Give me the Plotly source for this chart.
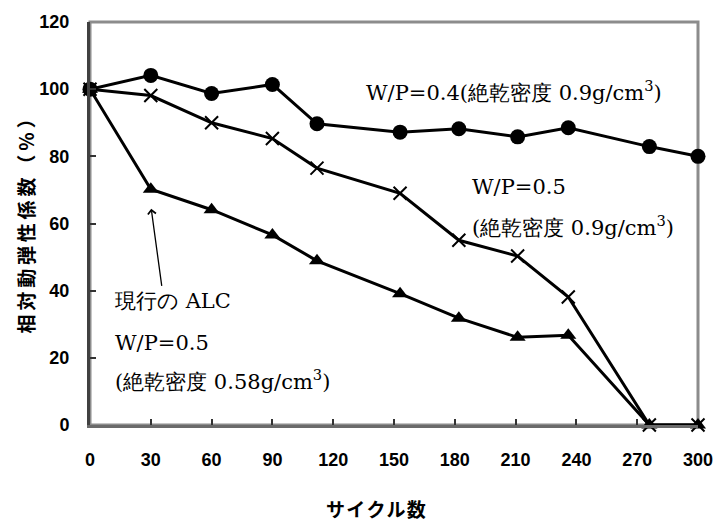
import plotly.graph_objects as go

cycles = [0, 30, 60, 90, 112, 153, 182, 211, 236, 276, 300]
wp04 = [100, 104.1, 98.7, 101.4, 89.7, 87.2, 88.2, 85.8, 88.5, 82.9, 80.0]
wp05 = [100, 98.1, 90.0, 85.3, 76.5, 69.0, 55.0, 50.3, 38.1, 0, 0]
alc = [100, 70.2, 64.1, 56.6, 48.9, 39.1, 31.8, 26.1, 26.7, 0, 0]

x_ticks = [0, 30, 60, 90, 120, 150, 180, 210, 240, 270, 300]
x_labels = ["0", "30", "60", "90", "120", "150", "180", "210", "240", "270", "300"]
y_ticks = [0, 20, 40, 60, 80, 100, 120]
y_labels = ["0", "20", "40", "60", "80", "100", "120"]

fig = go.Figure()
line = dict(color="black", width=3)
fig.add_trace(go.Scatter(x=cycles, y=alc, mode="lines+markers", line=line,
                         marker=dict(symbol="triangle-up", size=14, color="black"), cliponaxis=False))
fig.add_trace(go.Scatter(x=cycles, y=wp05, mode="lines+markers", line=line,
                         marker=dict(symbol="x-thin", size=13, color="black",
                                     line=dict(color="black", width=2)), cliponaxis=False))
fig.add_trace(go.Scatter(x=cycles, y=wp04, mode="lines+markers", line=line,
                         marker=dict(symbol="circle", size=15, color="black"), cliponaxis=False))

tickfont = dict(family="Liberation Sans, Arial", size=18, color="black", weight="bold")
fig.update_xaxes(range=[0, 300], tickvals=x_ticks, ticktext=x_labels, ticks="inside",
                 ticklen=6, tickwidth=2, tickcolor="#333", showline=True, linecolor="#6a6a6a",
                 linewidth=3, showgrid=False, zeroline=False, tickfont=tickfont,
                 ticklabelstandoff=16)
fig.update_yaxes(range=[0, 120], tickvals=y_ticks, ticktext=y_labels, ticks="inside",
                 ticklen=6, tickwidth=2, tickcolor="#333", showline=True, linecolor="#404040",
                 linewidth=3, showgrid=False, zeroline=False, tickfont=tickfont,
                 ticklabelstandoff=14)

fig.add_shape(type="rect", xref="paper", yref="paper", x0=0, y0=0, x1=1, y1=1,
              line=dict(color="#8c8c8c", width=3), layer="below")

serif = dict(family="DejaVu Serif", size=21, color="black")
anns = [
    (135.4, 99.4, "W/P=0.4(絶乾密度 0.9g/cm<sup>3</sup>)"),
    (187.5, 70.8, "W/P=0.5"),
    (187.5, 59.4, "(絶乾密度 0.9g/cm<sup>3</sup>)"),
    (11.2, 36.9, "現行の ALC"),
    (11.2, 24.4, "W/P=0.5"),
    (11.2, 13.3, "(絶乾密度 0.58g/cm<sup>3</sup>)"),
]
for ax_, ay_, t in anns:
    fig.add_annotation(x=ax_, y=ay_, xref="x", yref="y", text=t, showarrow=False,
                       xanchor="left", yanchor="middle", font=serif)

fig.add_annotation(x=30.2, y=64.4, ax=35.5, ay=41, xref="x", yref="y", axref="x", ayref="y",
                   text="", showarrow=True, arrowhead=4, arrowsize=1.2, arrowwidth=1.3,
                   arrowcolor="black", standoff=0)

boldj = dict(family="Noto Sans CJK JP", size=19, color="black", weight="bold")
fig.add_annotation(x=(380 - 90) / 616, y=(425 - 510) / 410, xref="paper", yref="paper",
                   text="サ\u200aイ\u200aク\u200aル\u200a数", showarrow=False, font=boldj,
                   xanchor="center", yanchor="middle")
fig.add_annotation(x=(25 - 90) / 616, y=(425 - 218) / 410, xref="paper", yref="paper",
                   text="相\u2009対\u2009動\u2009弾\u2009性\u2009係\u2009数\u2009（\u2009％\u2009）",
                   showarrow=False, font=boldj, textangle=-90, xanchor="center", yanchor="middle")

fig.update_layout(width=725, height=524, margin=dict(l=90, r=19, t=15, b=99),
                  paper_bgcolor="white", plot_bgcolor="white", showlegend=False)
fig.write_html("out.html", config={"displayModeBar": False},
               post_script="document.body.style.margin='0';")
